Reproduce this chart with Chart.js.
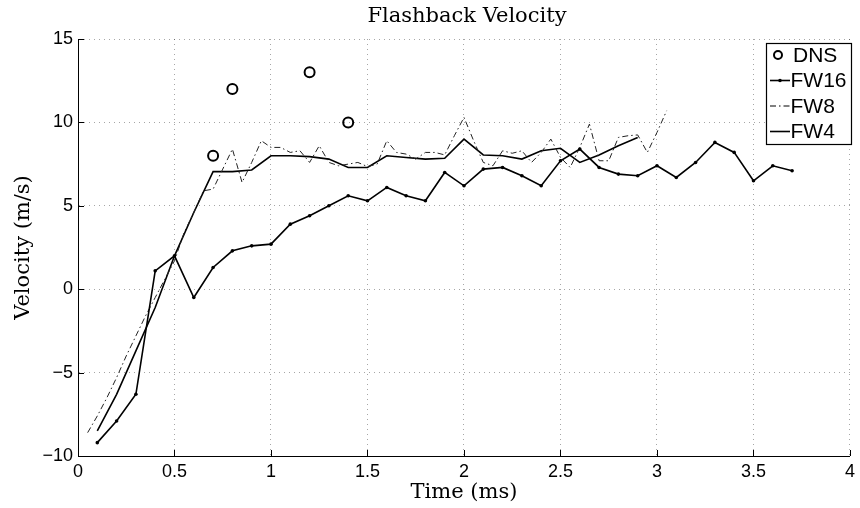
<!DOCTYPE html>
<html>
<head>
<meta charset="utf-8">
<script src="https://cdn.jsdelivr.net/npm/chart.js@4.4.1/dist/chart.umd.min.js"></script>
<style>
  html, body { margin: 0; padding: 0; background: #fff; }
  #wrap { width: 860px; height: 508px; }
</style>
</head>
<body>
<div id="wrap"><canvas id="chart" width="860" height="508"></canvas></div>
<script>
// values
const dnsTime = [0.7, 0.8, 1.2, 1.4];
const dnsVelocity = [8.0, 12.0, 13.0, 10.0];

const fw16Time = [0.1, 0.2, 0.3, 0.4, 0.5, 0.6, 0.7, 0.8, 0.9, 1.0,
                  1.1, 1.2, 1.3, 1.4, 1.5, 1.6, 1.7, 1.8, 1.9, 2.0,
                  2.1, 2.2, 2.3, 2.4, 2.5, 2.6, 2.7, 2.8, 2.9, 3.0,
                  3.1, 3.2, 3.3, 3.4, 3.5, 3.6, 3.7];
const fw16Velocity = [-9.2, -7.9, -6.3, 1.1, 2.0, -0.5, 1.3, 2.3, 2.6, 2.7,
                      3.9, 4.4, 5.0, 5.6, 5.3, 6.1, 5.6, 5.3, 7.0, 6.2,
                      7.2, 7.3, 6.8, 6.2, 7.7, 8.4, 7.3, 6.9, 6.8, 7.4,
                      6.7, 7.6, 8.8, 8.2, 6.5, 7.4, 7.1];

const fw8Time = [0.05, 0.1, 0.15, 0.2, 0.25, 0.3, 0.35, 0.4, 0.45, 0.5,
                 0.55, 0.6, 0.65, 0.7, 0.75, 0.8, 0.85, 0.9, 0.95, 1.0,
                 1.05, 1.1, 1.15, 1.2, 1.25, 1.3, 1.35, 1.4, 1.45, 1.5,
                 1.55, 1.6, 1.65, 1.7, 1.75, 1.8, 1.85, 1.9, 1.95, 2.0,
                 2.05, 2.1, 2.15, 2.2, 2.25, 2.3, 2.35, 2.4, 2.45, 2.5,
                 2.55, 2.6, 2.65, 2.7, 2.75, 2.8, 2.85, 2.9, 2.95, 3.0,
                 3.05];
const fw8Velocity = [-8.6, -7.6, -6.5, -5.3, -4.0, -2.8, -1.6, -0.5, 0.6, 1.7,
                     3.4, 4.6, 5.9, 6.0, 7.2, 8.4, 6.4, 7.6, 8.9, 8.5,
                     8.5, 8.2, 8.3, 7.6, 8.6, 7.6, 7.4, 7.5, 7.6, 7.35,
                     7.5, 8.9, 8.2, 8.1, 7.8, 8.2, 8.2, 8.05, 9.2, 10.3,
                     8.9, 7.6, 7.4, 8.3, 8.15, 8.3, 7.6, 8.2, 9.0, 7.9,
                     7.3, 8.5, 9.9, 7.7, 7.7, 9.1, 9.2, 9.25, 8.2, 9.4,
                     10.7];

const fw4Time = [0.1, 0.2, 0.3, 0.4, 0.5, 0.6, 0.7, 0.8, 0.9, 1.0,
                 1.1, 1.2, 1.3, 1.4, 1.5, 1.6, 1.7, 1.8, 1.9, 2.0,
                 2.1, 2.2, 2.3, 2.4, 2.5, 2.6, 2.7, 2.8, 2.9];
const fw4Velocity = [-8.5, -6.3, -3.7, -1.1, 2.0, 4.6, 7.05, 7.05, 7.15, 8.0,
                     8.0, 7.95, 7.8, 7.3, 7.3, 8.0, 7.9, 7.8, 7.85, 9.0,
                     8.05, 8.0, 7.8, 8.3, 8.45, 7.6, 8.05, 8.6, 9.1];

const xTicks = [0, 0.5, 1, 1.5, 2, 2.5, 3, 3.5, 4];
const yTicks = [-10, -5, 0, 5, 10, 15];

const toPoints = (xs, ys) => xs.map((x, i) => ({ x: x, y: ys[i] }));

const serif = '"DejaVu Serif", serif';
const sans = '"Liberation Sans", Arial, sans-serif';

// title drawn centred over the axes
const titlePlugin = {
    id: 'axesTitle',
    afterDraw(chart) {
        const { ctx, chartArea } = chart;
        ctx.save();
        ctx.fillStyle = '#000';
        ctx.font = '21px ' + serif;
        ctx.textAlign = 'center';
        ctx.textBaseline = 'middle';
        ctx.fillText('Flashback Velocity', (chartArea.left + chartArea.right) / 2 + 3, 17);
        ctx.restore();
    }
};

// matlab style ticks pointing into the axes
const innerTicks = {
    id: 'innerTicks',
    afterDraw(chart) {
        const { ctx, chartArea, scales } = chart;
        ctx.save();
        ctx.strokeStyle = '#000';
        ctx.lineWidth = 1;
        ctx.beginPath();
        xTicks.forEach(v => {
            const px = Math.round(scales.x.getPixelForValue(v)) + 0.5;
            ctx.moveTo(px, chartArea.bottom);
            ctx.lineTo(px, chartArea.bottom - 6);
        });
        yTicks.forEach(v => {
            const py = Math.round(scales.y.getPixelForValue(v)) + 0.5;
            ctx.moveTo(chartArea.left, py);
            ctx.lineTo(chartArea.left + 6, py);
        });
        ctx.stroke();
        ctx.restore();
    }
};

// legend box in the upper right corner
const boxLegend = {
    id: 'boxLegend',
    afterDraw(chart) {
        const { ctx } = chart;
        const left = 766, top = 43, width = 85, height = 101;
        ctx.save();
        ctx.fillStyle = '#fff';
        ctx.fillRect(left, top, width, height);
        ctx.strokeStyle = '#000';
        ctx.lineWidth = 1.2;
        ctx.strokeRect(left + 0.5, top + 0.5, width, height);
        ctx.font = '21px ' + sans;
        ctx.textBaseline = 'middle';
        ctx.textAlign = 'left';
        chart.data.datasets.forEach((ds, i) => {
            const y = top + 12 + i * 25.5;
            const x0 = left + 4, x1 = left + 24;
            ctx.strokeStyle = '#000';
            ctx.fillStyle = '#000';
            if (ds.showLine === false) {
                ctx.lineWidth = 2;
                ctx.beginPath();
                ctx.arc((x0 + x1) / 2 - 2, y, 4, 0, Math.PI * 2);
                ctx.stroke();
            } else {
                ctx.lineWidth = ds.borderWidth;
                ctx.setLineDash(ds.borderDash || []);
                ctx.beginPath();
                ctx.moveTo(x0, y);
                ctx.lineTo(x1, y);
                ctx.stroke();
                ctx.setLineDash([]);
                if (ds.pointRadius > 0) {
                    ctx.beginPath();
                    ctx.arc((x0 + x1) / 2, y, ds.pointRadius, 0, Math.PI * 2);
                    ctx.fill();
                }
            }
            ctx.fillText(ds.label, ds.showLine === false ? x1 + 3 : x1 + 0.5, y + 1);
        });
        ctx.restore();
    }
};

const chart = new Chart(document.getElementById('chart'), {
    type: 'line',
    data: {
        datasets: [
            {
                label: 'DNS',
                data: toPoints(dnsTime, dnsVelocity),
                showLine: false,
                borderColor: '#000',
                backgroundColor: 'rgba(0,0,0,0)',
                pointRadius: 5,
                pointBorderWidth: 2,
                pointBorderColor: '#000',
                pointBackgroundColor: 'rgba(0,0,0,0)'
            },
            {
                label: 'FW16',
                data: toPoints(fw16Time, fw16Velocity),
                borderColor: '#000',
                borderWidth: 1.6,
                pointRadius: 1.8,
                pointBorderWidth: 0,
                pointBackgroundColor: '#000',
                tension: 0
            },
            {
                label: 'FW8',
                data: toPoints(fw8Time, fw8Velocity),
                borderColor: '#222',
                borderWidth: 1,
                borderDash: [6, 3, 1.5, 3],
                pointRadius: 0,
                tension: 0
            },
            {
                label: 'FW4',
                data: toPoints(fw4Time, fw4Velocity),
                borderColor: '#000',
                borderWidth: 1.6,
                pointRadius: 0,
                tension: 0
            }
        ]
    },
    options: {
        responsive: false,
        animation: false,
        devicePixelRatio: 1,
        layout: {
            padding: { top: 39, right: 8, left: 0, bottom: 0 }
        },
        scales: {
            x: {
                type: 'linear',
                min: 0,
                max: 4,
                afterFit: scale => { scale.height = 52; },
                afterBuildTicks: scale => { scale.ticks = xTicks.map(v => ({ value: v })); },
                ticks: {
                    color: '#000',
                    font: { family: sans, size: 18 },
                    padding: 5,
                    maxRotation: 0,
                    callback: v => String(v)
                },
                grid: {
                    color: 'rgba(0,0,0,0.35)',
                    drawTicks: false,
                    lineWidth: 1
                },
                border: { display: true, color: '#000', width: 1, dash: [1, 4] },
                title: {
                    display: true,
                    text: 'Time (ms)',
                    color: '#000',
                    font: { family: serif, size: 21 },
                    padding: { top: 0, bottom: 3 }
                }
            },
            y: {
                type: 'linear',
                min: -10,
                max: 15,
                afterFit: scale => { scale.width = 78; },
                afterBuildTicks: scale => { scale.ticks = yTicks.map(v => ({ value: v })); },
                ticks: {
                    color: '#000',
                    font: { family: sans, size: 18 },
                    padding: 5,
                    callback: v => String(v).replace('-', '\u2212')
                },
                grid: {
                    color: 'rgba(0,0,0,0.35)',
                    drawTicks: false,
                    lineWidth: 1
                },
                border: { display: true, color: '#000', width: 1, dash: [1, 4] },
                title: {
                    display: true,
                    text: 'Velocity (m/s)',
                    color: '#000',
                    font: { family: serif, size: 21 },
                    padding: { top: 11, bottom: 0 }
                }
            }
        },
        plugins: {
            legend: { display: false },
            tooltip: { enabled: false }
        }
    },
    plugins: [titlePlugin, innerTicks, boxLegend]
});
</script>
</body>
</html>
